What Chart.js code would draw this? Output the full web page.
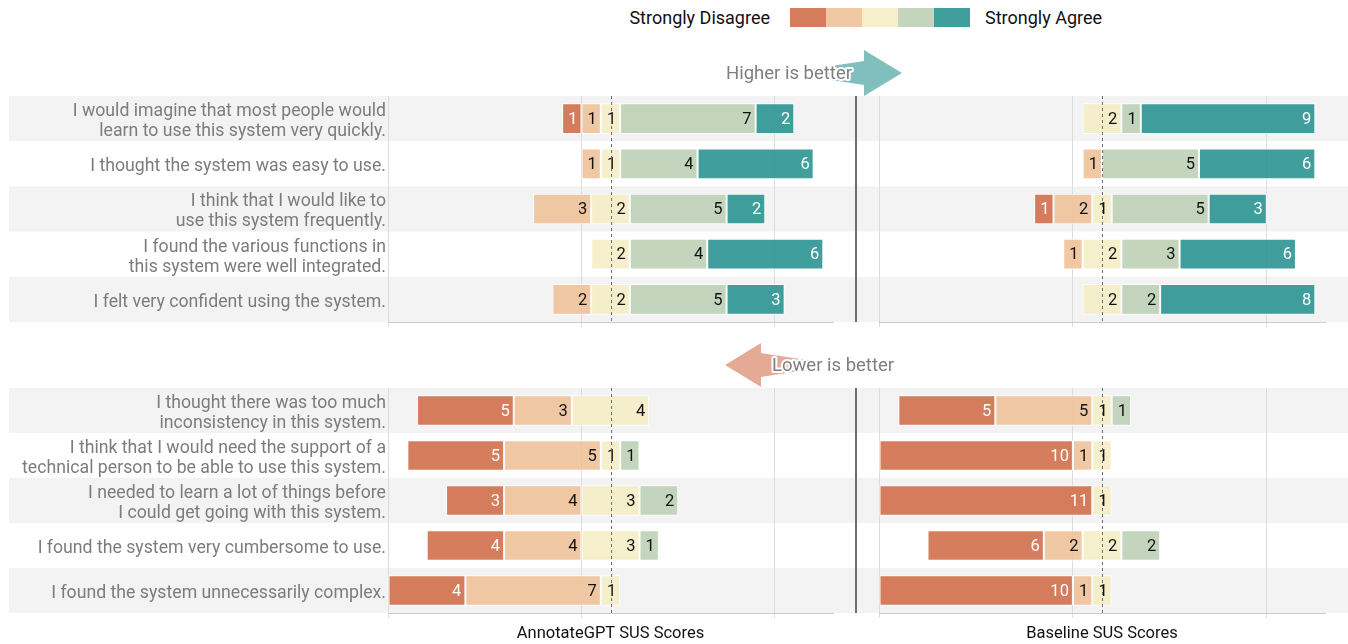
<!DOCTYPE html>
<html>
<head>
<meta charset="utf-8">
<script src="https://cdn.jsdelivr.net/npm/chart.js@4.4.1/dist/chart.umd.min.js"></script>
<style>
  html, body { margin: 0; padding: 0; background: #fff; overflow: hidden; }
  body { width: 1348px; height: 644px; position: relative; font-family: Roboto, sans-serif; }
  canvas { position: absolute; }
  .lgtext { position: absolute; top: 6px; font-size: 18px; color: #111; line-height: 24px; white-space: nowrap; }
  .lgbox { position: absolute; top: 8px; width: 36px; height: 19px; }
  svg { position: absolute; left: 0; top: 0; }
</style>
</head>
<body>
<div class="lgtext" style="right:578px;">Strongly Disagree</div>
<div id="lgboxes"></div>
<div class="lgtext" style="left:985px;">Strongly Agree</div>

<canvas id="c1"></canvas>
<canvas id="c2"></canvas>
<canvas id="c3"></canvas>
<canvas id="c4"></canvas>

<svg width="1348" height="644">
  <polygon points="812,69 864,61 864,50 902,73 864,96 864,85 812,77" fill="rgba(64,158,156,0.66)"/>
  <text x="789" y="79" text-anchor="middle" font-family="Roboto" font-size="18.5" fill="#7f7f7f" stroke="#fff" stroke-width="4" paint-order="stroke" stroke-linejoin="round">Higher is better</text>
  <polygon points="813,361 761,353 761,343 725,365 761,387 761,377 813,369" fill="rgba(214,125,94,0.65)"/>
  <text x="833" y="371" text-anchor="middle" font-family="Roboto" font-size="18.5" fill="#7f7f7f" stroke="#fff" stroke-width="4" paint-order="stroke" stroke-linejoin="round">Lower is better</text>
</svg>

<script>
// ---------- DATA ----------
const levelNames = ['Strongly Disagree', 'Disagree', 'Neutral', 'Agree', 'Strongly Agree'];

const positiveItems = [
  ['I would imagine that most people would', 'learn to use this system very quickly.'],
  'I thought the system was easy to use.',
  ['I think that I would like to', 'use this system frequently.'],
  ['I found the various functions in', 'this system were well integrated.'],
  'I felt very confident using the system.'
];
const negativeItems = [
  ['I thought there was too much', 'inconsistency in this system.'],
  ['I think that I would need the support of a', 'technical person to be able to use this system.'],
  ['I needed to learn a lot of things before', 'I could get going with this system.'],
  'I found the system very cumbersome to use.',
  'I found the system unnecessarily complex.'
];

// counts per row: [Strongly Disagree, Disagree, Neutral, Agree, Strongly Agree]
const annotatePositive = [[1,1,1,7,2],[0,1,1,4,6],[0,3,2,5,2],[0,0,2,4,6],[0,2,2,5,3]];
const baselinePositive = [[0,0,2,1,9],[0,1,0,5,6],[1,2,1,5,3],[0,1,2,3,6],[0,0,2,2,8]];
const annotateNegative = [[5,3,4,0,0],[5,5,1,1,0],[3,4,3,2,0],[4,4,3,1,0],[4,7,1,0,0]];
const baselineNegative = [[5,5,1,1,0],[10,1,1,0,0],[11,0,1,0,0],[6,2,2,2,0],[10,1,1,0,0]];

const axisTitles = ['AnnotateGPT SUS Scores', 'Baseline SUS Scores'];

// ---------- STYLE ----------
const levelColors = ['rgba(209,111,76,0.9)', 'rgba(238,194,153,0.9)', 'rgba(245,237,199,0.9)', 'rgba(190,208,182,0.9)', 'rgba(43,147,145,0.9)'];
const labelColors = ['#ffffff', '#111111', '#111111', '#111111', '#ffffff'];
const FONT = 'Roboto';

// legend boxes
const lg = document.getElementById('lgboxes');
levelColors.forEach((c, i) => {
  const d = document.createElement('div');
  d.className = 'lgbox';
  d.style.left = (790 + 36 * i) + 'px';
  d.style.background = c;
  lg.appendChild(d);
});

// center of the neutral category (common for all panels)
const allRows = [].concat(annotatePositive, baselinePositive, annotateNegative, baselineNegative);
const center = Math.max(...allRows.map(r => r[0] + r[1] + r[2] / 2));

// ---------- PLUGINS ----------
const bandsPlugin = {
  id: 'bands',
  beforeDraw(chart, args, opts) {
    const {ctx, chartArea, scales} = chart;
    const y = scales.y;
    const n = chart.data.labels.length;
    const h = (chartArea.bottom - chartArea.top) / n;
    ctx.save();
    ctx.fillStyle = '#f3f3f3';
    for (let i = 0; i < n; i += 2) {
      const yc = y.getPixelForValue(i);
      ctx.fillRect(opts.left, yc - h / 2, chart.width - opts.left, h);
    }
    ctx.restore();
  },
  afterDatasetsDraw(chart, args, opts) {
    const {ctx, chartArea, scales} = chart;
    ctx.save();
    ctx.font = '16.5px ' + FONT;
    ctx.textAlign = 'right';
    ctx.textBaseline = 'middle';
    chart.data.datasets.forEach((ds, di) => {
      if (ds.levelIndex === undefined) return;
      const meta = chart.getDatasetMeta(di);
      meta.data.forEach((bar, i) => {
        const v = ds.data[i];
        if (!v) return;
        ctx.fillStyle = labelColors[ds.levelIndex];
        ctx.fillText(String(v), bar.x - 4, bar.y + 1);
      });
    });
    const cx = Math.round(scales.x.getPixelForValue(center)) + 0.5;
    ctx.strokeStyle = '#6f6f6f';
    ctx.lineWidth = 1;
    ctx.setLineDash([3, 3]);
    ctx.beginPath();
    ctx.moveTo(cx, chartArea.top);
    ctx.lineTo(cx, chartArea.bottom);
    ctx.stroke();
    ctx.restore();
  },
  afterDraw(chart, args, opts) {
    if (!opts.divider) return;
    const {ctx, chartArea} = chart;
    ctx.save();
    ctx.fillStyle = '#6e6e6e';
    ctx.fillRect(chart.width - 3, chartArea.top, 2, chartArea.bottom - chartArea.top);
    ctx.restore();
  }
};

function makeChart(id, cfg) {
  const cv = document.getElementById(id);
  cv.width = cfg.w; cv.height = cfg.h;
  cv.style.left = cfg.x + 'px'; cv.style.top = cfg.y + 'px';
  cv.style.width = cfg.w + 'px'; cv.style.height = cfg.h + 'px';

  const rows = cfg.rows;
  const offsets = rows.map(r => center - (r[0] + r[1] + r[2] / 2));
  const datasets = [{
    label: 'offset',
    data: offsets,
    backgroundColor: 'rgba(0,0,0,0)',
    borderWidth: 0
  }];
  levelNames.forEach((name, li) => {
    datasets.push({
      label: name,
      levelIndex: li,
      data: rows.map(r => r[li]),
      backgroundColor: levelColors[li],
      borderColor: '#ffffff',
      borderWidth: 1,
      borderSkipped: false
    });
  });

  return new Chart(cv, {
    type: 'bar',
    data: { labels: cfg.labels, datasets },
    plugins: [bandsPlugin],
    options: {
      indexAxis: 'y',
      responsive: false,
      animation: false,
      devicePixelRatio: 1,
      datasets: { bar: { barPercentage: 0.68, categoryPercentage: 1 } },
      layout: { padding: cfg.padding },
      plugins: {
        legend: { display: false },
        tooltip: { enabled: false },
        bands: { left: cfg.bandLeft, divider: cfg.divider }
      },
      scales: {
        x: {
          type: 'linear',
          stacked: true,
          min: 0,
          max: center * 2,
          ticks: { display: false, stepSize: 10, includeBounds: false },
          grid: { color: '#dcdcdc', lineWidth: 1, drawTicks: true, tickLength: 5 },
          border: { display: true, color: '#cccccc', width: 1 },
          title: {
            display: !!cfg.title,
            text: cfg.title || '',
            color: '#111',
            font: { family: FONT, size: 16.5, lineHeight: 1.2 },
            padding: 0
          },
          afterFit: s => { s.height = cfg.xHeight; s.paddingLeft = 0; s.paddingRight = 0; }
        },
        y: {
          type: 'category',
          stacked: true,
          display: cfg.showLabels,
          grid: { display: false, drawTicks: false },
          border: { display: false },
          ticks: { color: '#7c7c7c', font: { family: FONT, size: 17.7, lineHeight: 1.13 }, padding: 2, labelOffset: 3 },
          afterFit: s => {
            if (cfg.yWidth) s.width = cfg.yWidth;
            s.paddingTop = 0; s.paddingBottom = 0;
          }
        }
      }
    }
  });
}

function build() {
  makeChart('c1', { x: 0, y: 90, w: 858, h: 240, rows: annotatePositive, labels: positiveItems,
    showLabels: true, yWidth: 388, padding: { top: 6, right: 25, left: 0, bottom: 0 }, xHeight: 8,
    bandLeft: 9, divider: true });
  makeChart('c2', { x: 858, y: 90, w: 490, h: 240, rows: baselinePositive, labels: positiveItems,
    showLabels: false, padding: { top: 6, right: 23, left: 21, bottom: 0 }, xHeight: 8,
    bandLeft: 0, divider: false });
  makeChart('c3', { x: 0, y: 380, w: 858, h: 264, rows: annotateNegative, labels: negativeItems,
    showLabels: true, yWidth: 388, padding: { top: 8, right: 25, left: 0, bottom: 0 }, xHeight: 31,
    bandLeft: 9, divider: true, title: axisTitles[0] });
  makeChart('c4', { x: 858, y: 380, w: 490, h: 264, rows: baselineNegative, labels: negativeItems,
    showLabels: false, padding: { top: 8, right: 23, left: 21, bottom: 0 }, xHeight: 31,
    bandLeft: 0, divider: false, title: axisTitles[1] });
}

if (document.fonts && document.fonts.load) {
  Promise.all([document.fonts.load('16px Roboto')]).then(build, build);
} else {
  build();
}
</script>
</body>
</html>
